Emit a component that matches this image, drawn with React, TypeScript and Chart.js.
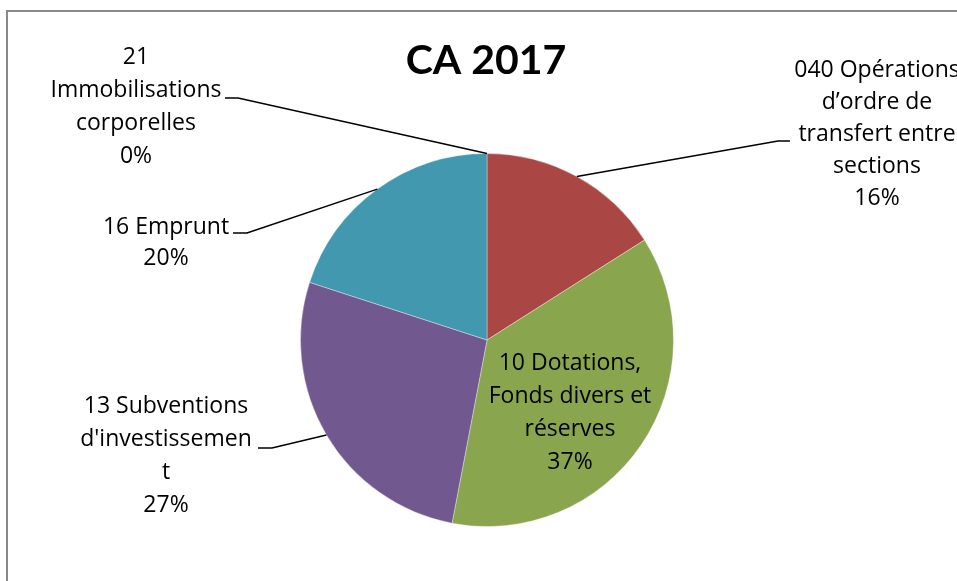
import React, { useEffect, useRef } from "react";
import { Chart, registerables } from "chart.js";

Chart.register(...registerables);

const TITLE = "CA 2017";
const categories = [
  "040 Opérations d’ordre de transfert entre sections",
  "10 Dotations, Fonds divers et réserves",
  "13 Subventions d'investissement",
  "16 Emprunt",
  "21 Immobilisations corporelles",
];
const values = [16, 37, 27, 20, 0];
const percentLabels = ["16%", "37%", "27%", "20%", "0%"];
const labelLines = [
  ["040 Opérations", "d’ordre de", "transfert entre", "sections"],
  ["10 Dotations,", "Fonds divers et", "réserves"],
  ["13 Subventions", "d'investissemen", "t"],
  ["16 Emprunt"],
  ["21", "Immobilisations", "corporelles"],
];
const colors = ["#AA4643", "#89A54E", "#71588F", "#4198AF", "#DB843D"];

// label layout (positions of text blocks and leader-line elbows)
const LABEL_LAYOUT = [
  { cx: 877, y0: 70, lh: 32, elbow: [778, 141], end: [790, 141] },
  { cx: 570, y0: 363, lh: 33.3, elbow: null, end: null },
  { cx: 166, y0: 406, lh: 33, elbow: [272, 448], end: [258, 448] },
  { cx: 166, y0: 227, lh: 31.5, elbow: [247, 233], end: [233, 233] },
  { cx: 136, y0: 57, lh: 33, elbow: [238, 98], end: [225, 98] },
];

const FONT = "'Open Sans', 'Noto Sans', sans-serif";
const TITLE_FONT = "Lato, 'Noto Sans', sans-serif";

const decorPlugin = {
  id: "decor",
  beforeDraw(chart: any) {
    const ctx = chart.ctx;
    ctx.save();
    ctx.fillStyle = "#ffffff";
    ctx.fillRect(0, 0, chart.width, chart.height);
    ctx.strokeStyle = "#8a8a8a";
    ctx.lineWidth = 2;
    ctx.strokeRect(7, 11, chart.width + 20, chart.height + 20);
    ctx.restore();
  },
  afterDraw(chart: any) {
    const ctx = chart.ctx;
    const meta = chart.getDatasetMeta(0);
    ctx.save();
    // title
    ctx.fillStyle = "#000";
    ctx.font = `bold 41px ${TITLE_FONT}`;
    ctx.textAlign = "center";
    ctx.textBaseline = "middle";
    ctx.fillText(TITLE, 486, 61);

    meta.data.forEach((arc: any, i: number) => {
      const L = LABEL_LAYOUT[i];
      const mid = (arc.startAngle + arc.endAngle) / 2;
      const sx = arc.x + Math.cos(mid) * arc.outerRadius;
      const sy = arc.y + Math.sin(mid) * arc.outerRadius;
      if (L.elbow && L.end) {
        ctx.strokeStyle = "#000";
        ctx.lineWidth = 1.5;
        ctx.beginPath();
        ctx.moveTo(sx, sy);
        ctx.lineTo(L.elbow[0], L.elbow[1]);
        ctx.lineTo(L.end[0], L.end[1]);
        ctx.stroke();
      }
      const lines = [...labelLines[i], percentLabels[i]];
      ctx.font = `23px ${FONT}`;
      ctx.fillStyle = "#000";
      ctx.textAlign = "center";
      ctx.textBaseline = "middle";
      lines.forEach((t, k) => {
        ctx.fillText(t, L.cx, L.y0 + k * L.lh);
      });
    });
    ctx.restore();
  },
};

export default function App() {
  const ref = useRef<HTMLCanvasElement>(null);
  useEffect(() => {
    document.body.style.margin = "0";
    const chart = new Chart(ref.current!, {
      type: "pie",
      data: {
        labels: categories,
        datasets: [
          {
            data: values,
            backgroundColor: colors,
            borderColor: "rgba(255,255,255,0.35)",
            borderWidth: 1,
          },
        ],
      },
      options: {
        animation: false,
        responsive: false,
        events: [],
        layout: { padding: { top: 153, bottom: 54, left: 300, right: 283 } },
        plugins: {
          legend: { display: false },
          tooltip: { enabled: false },
          title: { display: false },
        },
      },
      plugins: [decorPlugin],
    });
    return () => chart.destroy();
  }, []);
  return (
    <div style={{ position: "absolute", left: 0, top: 0, width: 957, height: 581 }}>
      <canvas ref={ref} width={957} height={581} style={{ width: 957, height: 581 }} />
    </div>
  );
}
